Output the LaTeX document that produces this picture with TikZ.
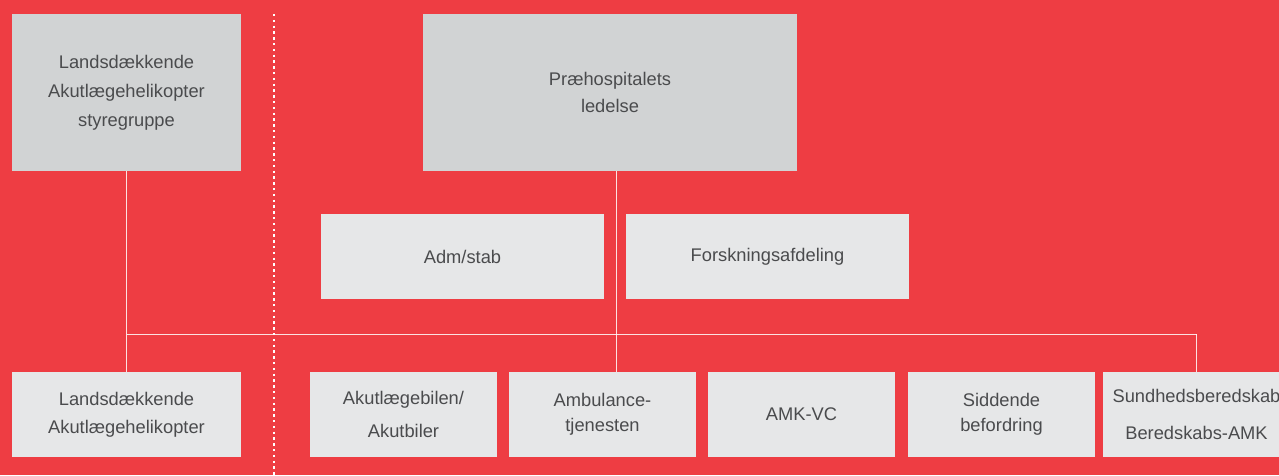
\documentclass[tikz,border=0pt]{standalone}
\usepackage{fontspec}
\setmainfont{Liberation Sans}
\definecolor{bgred}{HTML}{EE3D43}
\definecolor{boxdark}{HTML}{D1D3D4}
\definecolor{boxlight}{HTML}{E6E7E8}
\definecolor{txtgray}{HTML}{4A4B4D}
\pgfdeclarelayer{bglayer}
\pgfdeclarelayer{linelayer}
\pgfsetlayers{bglayer,linelayer,main}
\begin{document}
\begin{tikzpicture}[x=1pt,y=-1pt,
  box/.style={fill=boxlight, draw=none, inner sep=0pt, align=center, text=txtgray,
     font=\fontsize{18.3}{28}\selectfont, minimum height=85pt},
  topbox/.style={box, fill=boxdark, minimum height=157pt},
  conn/.style={draw=white, opacity=0.85, line width=1pt},
  dotline/.style={draw=white, line width=2.4pt, dash pattern=on 2.4pt off 3.4pt}]
\useasboundingbox (0,0) rectangle (1279,475);
\clip (0,0) rectangle (1279,475);
\begin{pgfonlayer}{bglayer}
\fill[bgred] (0,0) rectangle (1279,475);
\end{pgfonlayer}

% nodes
\node[topbox, minimum width=229pt, font=\fontsize{18.3}{29}\selectfont] (tl) at (126.5,92.5)
  {Landsdækkende\\Akutlægehelikopter\\styregruppe};
\node[topbox, minimum width=374pt, font=\fontsize{18.3}{27}\selectfont] (top) at (610,92.5)
  {Præhospitalets\\ledelse};
\node[box, minimum width=283pt] (adm) at (462.5,256.5) {Adm/stab};
\node[box, minimum width=283pt] (forsk) at (767.5,256.5) {Forskningsafdeling};

\node[box, minimum width=229pt, font=\fontsize{18.3}{28}\selectfont] (heli) at (126.5,414.5)
  {Landsdækkende\\Akutlægehelikopter};
\node[box, minimum width=187pt, font=\fontsize{18.3}{33}\selectfont] (bil) at (403.5,414.5)
  {Akutlægebilen/\\Akutbiler};
\node[box, minimum width=187pt, font=\fontsize{18.3}{25}\selectfont] (amb) at (602.5,414.5)
  {Ambulance-\\tjenesten};
\node[box, minimum width=187pt] (amk) at (801.5,414.5) {AMK-VC};
\node[box, minimum width=187pt, font=\fontsize{18.3}{25}\selectfont] (sidd) at (1001.5,414.5)
  {Siddende\\befordring};
\node[box, minimum width=187pt, font=\fontsize{18.3}{37}\selectfont] (sund) at (1196.5,414.5)
  {Sundhedsberedskab\\Beredskabs-AMK};

% connectors
\begin{pgfonlayer}{linelayer}
\coordinate (busL) at (126.5,334);
\coordinate (busR) at (1196.5,334);
\draw[conn] (tl.south) -- (heli.north);
\draw[conn] (busL) -- (busR);
\draw[conn] (busR) -- (sund.north);
\draw[conn] ([xshift=6pt]top.south) -- ([xshift=13.5pt]amb.north);
% dotted separator
\coordinate (dtop) at (274,14);
\coordinate (dbot) at (274,476);
\draw[dotline] (dtop) -- (dbot);
\end{pgfonlayer}
\end{tikzpicture}
\end{document}
